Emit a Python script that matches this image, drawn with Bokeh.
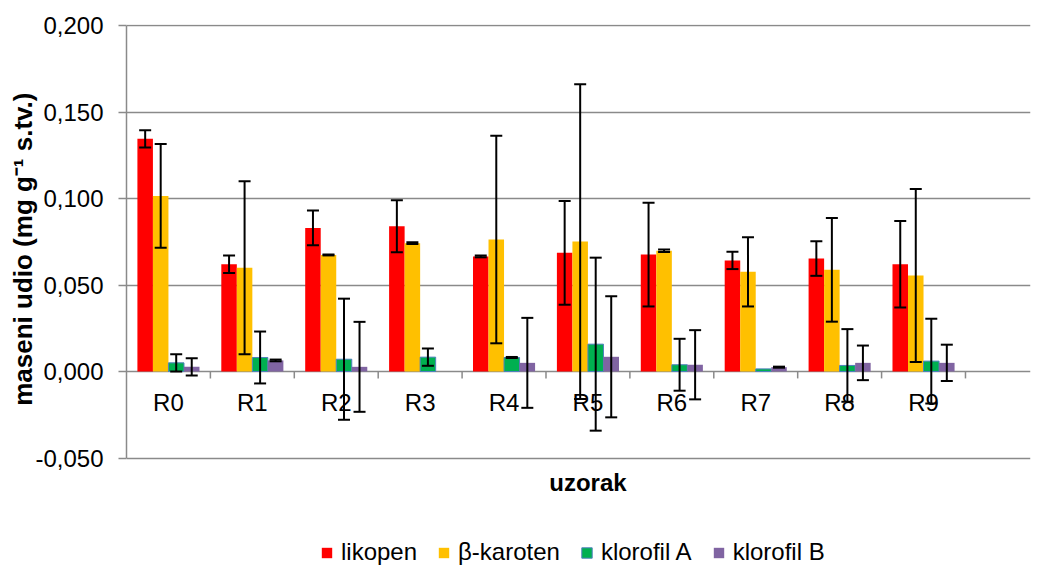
import numpy as np
from bokeh.plotting import figure
from bokeh.models import (Range1d, FixedTicker, ColumnDataSource, Whisker, TeeHead,
                          Legend, LegendItem, Title)
from bokeh.core.properties import value
from bokeh.embed import file_html
from bokeh.resources import INLINE

# ---- data ----
categories = ["R0", "R1", "R2", "R3", "R4", "R5", "R6", "R7", "R8", "R9"]
series_names = ["likopen", "β-karoten", "klorofil A", "klorofil B"]
likopen = [0.1345, 0.062, 0.083, 0.084, 0.0665, 0.0686, 0.0676, 0.0642, 0.0653, 0.062]
likopen_err = [0.005, 0.005, 0.010, 0.015, 0.0005, 0.030, 0.030, 0.005, 0.010, 0.025]
karoten = [0.1015, 0.060, 0.0674, 0.0742, 0.0763, 0.0751, 0.0698, 0.0576, 0.0588, 0.0555]
karoten_err = [0.030, 0.050, 0.0003, 0.0005, 0.060, 0.091, 0.0007, 0.020, 0.030, 0.050]
klorofil_a = [0.005, 0.0081, 0.0071, 0.0083, 0.0081, 0.0158, 0.0039, 0.0015, 0.0035, 0.006]
klorofil_a_err = [0.005, 0.015, 0.035, 0.005, 0.0003, 0.050, 0.015, 0.0, 0.021, 0.0245]
klorofil_b = [0.0027, 0.0064, 0.0027, 0.0, 0.005, 0.0085, 0.0039, 0.0025, 0.005, 0.005]
klorofil_b_err = [0.005, 0.0005, 0.026, 0.0, 0.026, 0.035, 0.020, 0.0003, 0.010, 0.0105]
y_ticks = [-0.05, 0.0, 0.05, 0.1, 0.15, 0.2]
y_tick_labels = ["-0,050", "0,000", "0,050", "0,100", "0,150", "0,200"]
x_title = "uzorak"
y_title = "maseni udio (mg g⁻¹ s.tv.)"

values = [likopen, karoten, klorofil_a, klorofil_b]
errors = [likopen_err, karoten_err, klorofil_a_err, klorofil_b_err]
fills = ["#FF0000", "#FFC000", "#00B050", "#8064A2"]
outlines = [None, None, "#4F81BD", None]

FONT = "Liberation Sans"
FS = "24px"
GRID = "#8a8a8a"
n = len(categories)
bar_w = 0.185

# geometry: the plot frame runs down to the bottom of the figure so the
# x title and legend can sit inside it below the -0,050 line
W, H = 1038, 566
TOP, LEFT, RIGHT = 24, 126, 8
PX_PER_UNIT = 1730.0
y_top = y_ticks[-1] + 1.0 / PX_PER_UNIT
y_bot = y_top - (H - TOP) / PX_PER_UNIT

p = figure(width=W, height=H, output_backend="svg", toolbar_location=None,
           x_range=Range1d(0, 10.775), y_range=Range1d(y_bot, y_top),
           min_border_left=LEFT, min_border_right=RIGHT, min_border_top=TOP, min_border_bottom=0)
p.outline_line_color = None
p.xgrid.visible = False
p.xaxis.visible = False
p.ygrid.grid_line_color = GRID
p.ygrid.grid_line_width = 1.5

# y axis
p.yaxis.bounds = (y_ticks[0], y_ticks[-1])
p.yaxis.ticker = FixedTicker(ticks=y_ticks)
p.yaxis.major_label_overrides = dict(zip(y_ticks, y_tick_labels))
p.yaxis.major_tick_out = 8
p.yaxis.major_tick_in = 0
p.yaxis.minor_tick_out = 0
p.yaxis.minor_tick_in = 0
p.yaxis.axis_line_color = GRID
p.yaxis.axis_line_width = 1.5
p.yaxis.major_tick_line_color = GRID
p.yaxis.major_tick_line_width = 1.5
p.yaxis.major_label_standoff = 15
p.yaxis.major_label_text_font = FONT
p.yaxis.major_label_text_font_size = FS
p.yaxis.major_label_text_color = "black"

# y title, placed along the tick span rather than the whole frame
ytitle = Title(text=y_title, align="right", offset=68, standoff=-10,
               text_font=FONT, text_font_size="26px", text_font_style="bold",
               text_color="black")
p.add_layout(ytitle, "left")

centers = np.arange(n) + 0.5

# category labels at the zero line and boundary ticks
p.segment(x0=np.arange(1, n + 1), y0=np.zeros(n), x1=np.arange(1, n + 1), y1=np.full(n, -0.004),
          line_color=GRID, line_width=1.5)
p.text(x=centers, y=np.zeros(n), text=categories, text_font=value(FONT),
       text_font_size=FS, text_align="center", text_baseline="middle",
       y_offset=31, text_color="black")

# x title
p.text(x=[(n + 1) / 2], y=[y_ticks[0]], text=[x_title], text_font=value(FONT),
       text_font_size=FS, text_font_style="bold", text_align="center",
       text_baseline="middle", y_offset=24, text_color="black")

renderers = []
for k, (vals, errs) in enumerate(zip(values, errors)):
    xs = centers + (k - 1.5) * bar_w
    src = ColumnDataSource(dict(x=xs, top=vals))
    r = p.vbar(x="x", top="top", bottom=0, width=bar_w, source=src,
               fill_color=fills[k], line_color=outlines[k], line_width=1)
    renderers.append(r)
    mask = [e > 0 for e in errs]
    esrc = ColumnDataSource(dict(
        x=[x for x, m in zip(xs, mask) if m],
        upper=[v + e for v, e, m in zip(vals, errs, mask) if m],
        lower=[v - e for v, e, m in zip(vals, errs, mask) if m]))
    w = Whisker(source=esrc, base="x", upper="upper", lower="lower", dimension="height",
                line_color="black", line_width=2, level="annotation",
                upper_head=TeeHead(size=12, line_width=2, line_color="black"),
                lower_head=TeeHead(size=12, line_width=2, line_color="black"))
    p.add_layout(w)

legend = Legend(items=[LegendItem(label=nm, renderers=[r]) for nm, r in zip(series_names, renderers)],
                orientation="horizontal", location=(194, 0), margin=0, padding=0,
                spacing=20, label_standoff=8, glyph_width=13, glyph_height=13,
                label_text_font=FONT, label_text_font_size=FS, label_text_color="black",
                border_line_color=None, background_fill_alpha=0)
p.add_layout(legend)

open("out.html", "w").write(file_html(p, INLINE))
